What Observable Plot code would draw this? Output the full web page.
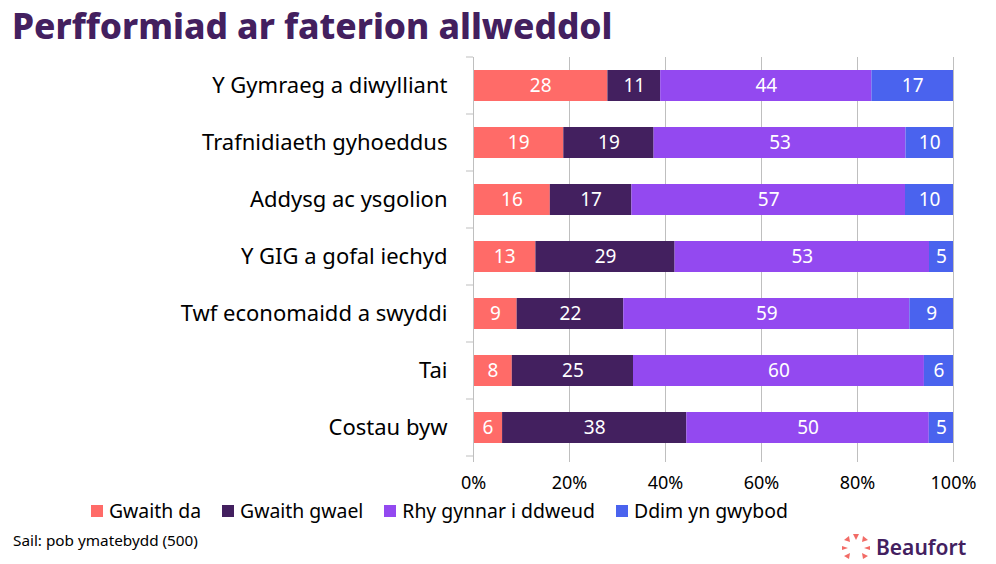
<!DOCTYPE html>
<html><head><meta charset="utf-8">
<script src="https://cdn.jsdelivr.net/npm/d3@7"></script>
<script src="https://cdn.jsdelivr.net/npm/@observablehq/plot@0.6"></script>
<style>
body{margin:0;background:#fff;font-family:"Noto Sans",sans-serif;}
#wrap{position:relative;width:996px;height:564px;overflow:hidden;}
#title{position:absolute;left:12px;top:1px;font-size:35.3px;font-weight:800;color:#43205f;white-space:nowrap;line-height:1.362;}
#chart{position:absolute;left:0;top:50px;}
#legend{position:absolute;left:91px;top:497px;display:flex;font-size:19.4px;color:#000;white-space:nowrap;}
#legend .it{display:flex;align-items:center;margin-right:21px;}
#legend .sw{width:12px;height:12px;margin-right:6px;}
#caption{position:absolute;left:13px;top:530px;font-size:15.3px;color:#000;}
#logo{position:absolute;left:840px;top:531px;}
</style></head><body>
<div id="wrap">
<div id="title">Perfformiad ar faterion allweddol</div>
<div id="chart"></div>
<div id="legend"></div>
<div id="caption">Sail: pob ymatebydd (500)</div>
<div id="logo"><svg width="140" height="32" viewBox="0 0 140 32">
<g fill="#f26b66">
<polygon points="13,3 19,3 16,9"/>
<polygon points="23,5 28,9 22,11"/>
<polygon points="4,9 9,5 10,11"/>
<polygon points="2,15 8,17 2,19"/>
<polygon points="30,15 30,19 24,17"/>
<polygon points="4,25 10,22 9,28"/>
<polygon points="22,22 28,25 23,28"/>
</g>
<text x="36" y="24" font-family="Noto Sans" font-weight="600" font-size="21" fill="#43205f">Beaufort</text>
</svg></div>
</div>
<script>
const categories = ["Y Gymraeg a diwylliant","Trafnidiaeth gyhoeddus","Addysg ac ysgolion","Y GIG a gofal iechyd","Twf economaidd a swyddi","Tai","Costau byw"];
const seriesNames = ["Gwaith da","Gwaith gwael","Rhy gynnar i ddweud","Ddim yn gwybod"];
const colors = ["#ff6b68","#43205f","#9349f0","#4a63ee"];
const gwaithDa    = [28,19,16,13,9,8,6];
const gwaithGwael = [11,19,17,29,22,25,38];
const rhyGynnar   = [44,53,57,53,59,60,50];
const ddimGwybod  = [17,10,10,5,9,6,5];
const xTicks = [0,0.2,0.4,0.6,0.8,1];

const seriesValues = [gwaithDa,gwaithGwael,rhyGynnar,ddimGwybod];
const data = [];
categories.forEach((c,i)=>seriesNames.forEach((s,j)=>data.push({cat:c,series:s,value:seriesValues[j][i]})));

const stackOpts = {x:"value", y:"cat", z:"series", offset:"normalize", order:seriesNames};
const chart = Plot.plot({
  width:996, height:450,
  marginLeft:473, marginRight:43, marginTop:7, marginBottom:44,
  style:{fontFamily:"Noto Sans", fontSize:"18px", color:"#000", background:"transparent", overflow:"visible"},
  x:{domain:[0,1], label:null},
  y:{domain:categories, paddingInner:0.456, paddingOuter:0.228, label:null},
  color:{domain:seriesNames, range:colors},
  marks:[
    Plot.gridX(xTicks,{stroke:"#bfbfbf", strokeOpacity:1}),
    Plot.axisX({ticks:xTicks, tickFormat:d3.format(".0%"), tickSize:6, tickPadding:14, stroke:"#bfbfbf", fontSize:18, fill:"#000", label:null}),
    Plot.barX(data, Plot.stackX({...stackOpts, fill:"series"})),
    Plot.textX(data, Plot.stackX({...stackOpts, text:"value", fill:"white", fontSize:19})),
    Plot.ruleX([0],{stroke:"#bfbfbf"}),
    Plot.axisY({tickSize:0, tickPadding:26, fontSize:22, fill:"#000", label:null})
  ]
});
// boundary ticks on the y axis, computed from the band scale
const ys = chart.scale("y");
const xs = chart.scale("x");
const svg = d3.select(chart);
const step = ys.step;
const gap = (step - ys.bandwidth)/2;
const bounds = categories.map(c => ys.apply(c) - gap).concat([ys.apply(categories[categories.length-1]) + ys.bandwidth + gap]);
const x0 = xs.apply(0);
svg.append("g").selectAll("line").data(bounds).join("line")
  .attr("x1", x0-7).attr("x2", x0).attr("y1", d=>d).attr("y2", d=>d)
  .attr("stroke","#bfbfbf");
document.getElementById("chart").appendChild(chart);

const lg = document.getElementById("legend");
seriesNames.forEach((s,i)=>{
  const it=document.createElement("div"); it.className="it";
  it.innerHTML=`<div class="sw" style="background:${colors[i]}"></div><span>${s}</span>`;
  lg.appendChild(it);
});
</script>
</body></html>
